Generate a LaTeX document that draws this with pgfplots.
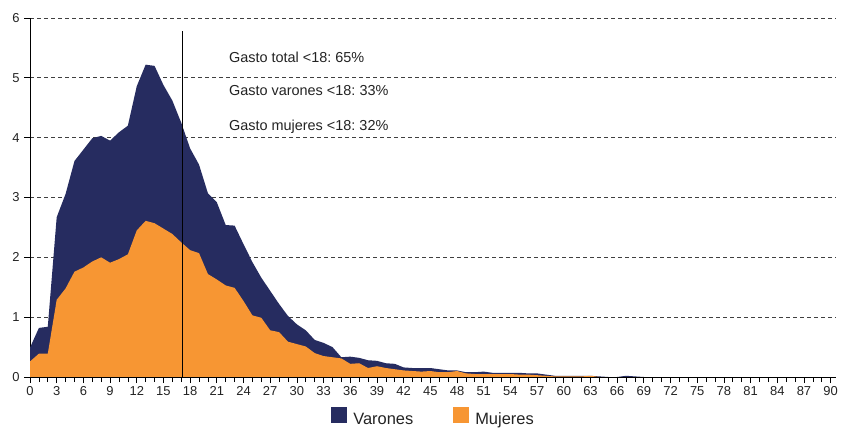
\documentclass[border=0pt]{standalone}
\usepackage{fontspec}
\setmainfont{Liberation Sans}
\usepackage{pgfplots}
\usepackage{pgfplotstable}
\pgfplotsset{compat=1.18}
\definecolor{navy}{RGB}{38,44,96}
\definecolor{orng}{RGB}{247,150,51}
\definecolor{txt}{RGB}{35,35,35}
\pgfplotstableread{
x tot muj
0 0.49 0.26
1 0.82 0.39
2 0.84 0.39
3 2.67 1.29
4 3.06 1.48
5 3.61 1.76
6 3.80 1.83
7 3.99 1.93
8 4.03 2.00
9 3.95 1.91
10 4.09 1.97
11 4.20 2.05
12 4.86 2.45
13 5.22 2.61
14 5.20 2.57
15 4.88 2.48
16 4.62 2.39
17 4.25 2.25
18 3.82 2.12
19 3.55 2.07
20 3.07 1.72
21 2.92 1.63
22 2.54 1.53
23 2.53 1.49
24 2.22 1.27
25 1.92 1.03
26 1.66 0.99
27 1.44 0.78
28 1.22 0.75
29 1.02 0.59
30 0.88 0.55
31 0.78 0.51
32 0.62 0.40
33 0.57 0.35
34 0.50 0.33
35 0.33 0.31
36 0.34 0.22
37 0.32 0.23
38 0.28 0.15
39 0.27 0.18
40 0.23 0.15
41 0.22 0.13
42 0.16 0.11
43 0.15 0.10
44 0.15 0.09
45 0.15 0.10
46 0.13 0.08
47 0.11 0.08
48 0.11 0.10
49 0.08 0.06
50 0.08 0.05
51 0.09 0.05
52 0.07 0.05
53 0.07 0.05
54 0.07 0.05
55 0.07 0.04
56 0.06 0.04
57 0.06 0.03
58 0.04 0.02
59 0.02 0.01
60 0.02 0.01
61 0.02 0.01
62 0.02 0.01
63 0.02 0.02
64 0.01 0.00
65 0.00 0.00
66 0.00 0.00
67 0.02 0.00
68 0.01 0.00
69 0.00 0.00
70 0.00 0.00
75 0.00 0.00
80 0.00 0.00
85 0.00 0.00
90 0.00 0.00
}\datatable
\begin{document}
\frenchspacing
\begin{tikzpicture}
\path[use as bounding box] (0,0) rectangle (843bp,429bp);
\begin{axis}[
  at={(30bp,52bp)}, anchor=origin,
  scale only axis, width=806bp, height=359bp,
  xmin=0, xmax=90.6, ymin=0, ymax=6,
  axis x line=bottom, axis y line=left,
  axis line style={-, black, line width=0.8bp},
  xtick={0,3,...,90}, minor xtick={0,1,...,90},
  ytick={0,1,...,6},
  tick align=outside,
  major tick length=6bp, minor tick length=5bp,
  tick style={black, line width=0.7bp},
  ymajorgrids,
  grid style={dashed, black!75, line width=0.7bp, dash pattern=on 4bp off 3bp},
  /pgf/number format/assume math mode=true,
  ticklabel style={font=\fontsize{13}{15}\selectfont, text=txt},
  yticklabel style={xshift=-1bp},
  legend columns=2,
  legend style={draw=none, fill=none, at={(0.4994,-0.111)}, anchor=center,
    font=\fontsize{16.5}{18}\selectfont, text=txt,
    nodes={inner sep=0pt},
    /tikz/every odd column/.append style={column sep=6bp},
    /tikz/every even column/.append style={column sep=40bp}},
  legend image code/.code={\fill[#1] (0bp,-4bp) rectangle (16bp,12bp);},
]
\addplot[fill=navy, draw=none, forget plot] table[x=x, y=tot] {\datatable} \closedcycle;
\addplot[fill=orng, draw=none, forget plot] table[x=x, y=muj] {\datatable} \closedcycle;
\addlegendimage{fill=navy, draw=none}
\addlegendentry{Varones}
\addlegendimage{fill=orng, draw=none}
\addlegendentry{Mujeres}
\draw[black, line width=1.1bp] (axis cs:17.1,0) -- (axis cs:17.1,5.78);
\node[anchor=west, inner sep=0pt, font=\fontsize{14.5}{16}\selectfont, text=txt] at (axis cs:22.35,5.35) {Gasto total <18: 65\%};
\node[anchor=west, inner sep=0pt, font=\fontsize{14.5}{16}\selectfont, text=txt] at (axis cs:22.35,4.78) {Gasto varones <18: 33\%};
\node[anchor=west, inner sep=0pt, font=\fontsize{14.5}{16}\selectfont, text=txt] at (axis cs:22.35,4.18) {Gasto mujeres <18: 32\%};
\end{axis}
\end{tikzpicture}
\end{document}
